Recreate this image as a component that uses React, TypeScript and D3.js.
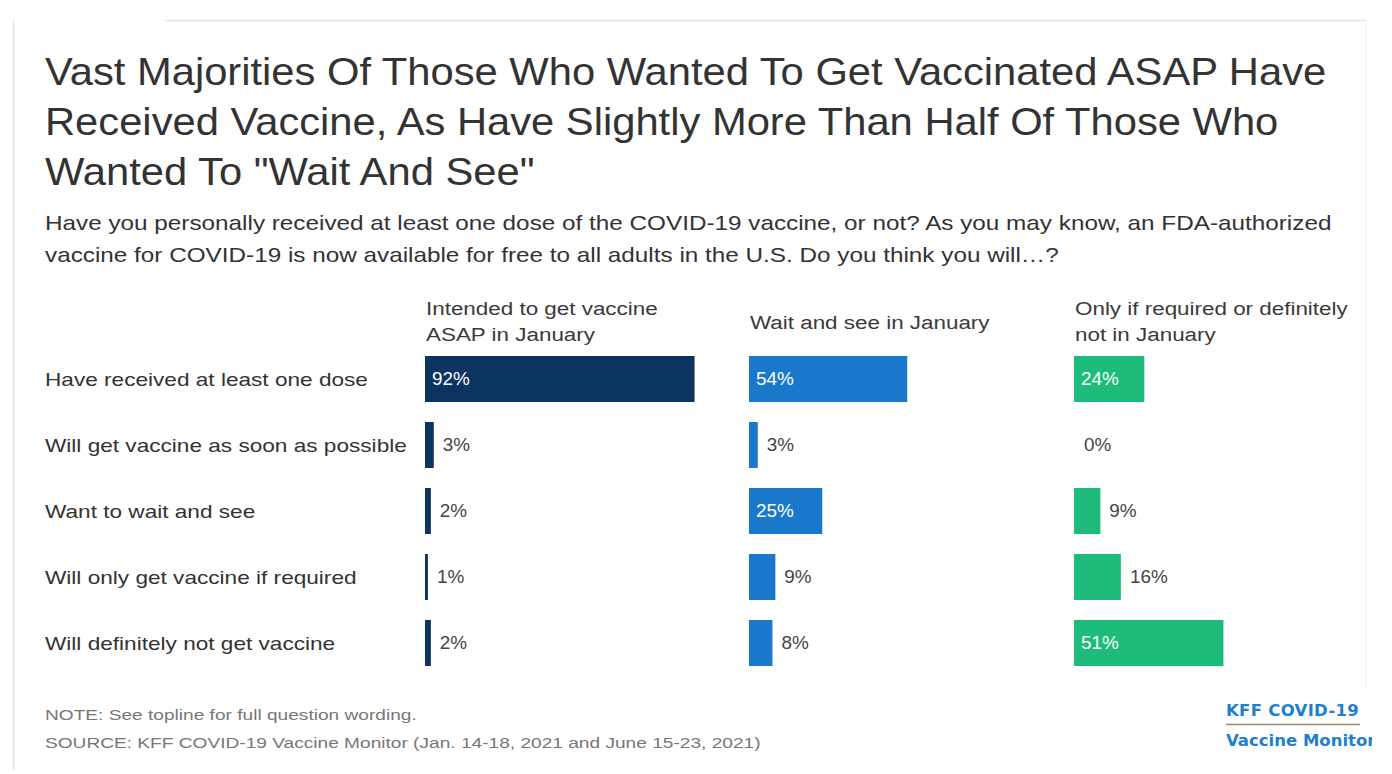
import React from "react";
import * as d3 from "d3";

const titleLines = [
  "Vast Majorities Of Those Who Wanted To Get Vaccinated ASAP Have",
  "Received Vaccine, As Have Slightly More Than Half Of Those Who",
  'Wanted To "Wait And See"',
];
const subtitleLines = [
  "Have you personally received at least one dose of the COVID-19 vaccine, or not? As you may know, an FDA-authorized",
  "vaccine for COVID-19 is now available for free to all adults in the U.S. Do you think you will…?",
];
const categories = [
  "Have received at least one dose",
  "Will get vaccine as soon as possible",
  "Want to wait and see",
  "Will only get vaccine if required",
  "Will definitely not get vaccine",
];
const groupHeaders = [
  ["Intended to get vaccine", "ASAP in January"],
  ["Wait and see in January"],
  ["Only if required or definitely", "not in January"],
];
const asapValues = [92, 3, 2, 1, 2];
const waitValues = [54, 3, 25, 9, 8];
const requiredValues = [24, 0, 9, 16, 51];
const groupColors = ["#0b3560", "#1a78cc", "#1dbc7a"];
const noteText = "NOTE: See topline for full question wording.";
const sourceText = "SOURCE: KFF COVID-19 Vaccine Monitor (Jan. 14-18, 2021 and June 15-23, 2021)";

const FONT = "'Liberation Sans', Arial, Helvetica, sans-serif";

type TProps = {
  x: number;
  y: number;
  sx: number;
  size: number;
  fill: string;
  dy?: string;
  children: React.ReactNode;
};
function T({ x, y, sx, size, fill, dy, children }: TProps) {
  return (
    <text transform={`translate(${x},${y}) scale(${sx},1)`} fontSize={size} fill={fill} dy={dy}>
      {children}
    </text>
  );
}

export default function App() {
  const W = 1392;
  const H = 774;
  const series = [asapValues, waitValues, requiredValues];
  const colX = [425, 749, 1074];
  const x = d3.scaleLinear().domain([0, 100]).range([0, 293]);
  const y = d3
    .scaleBand<string>()
    .domain(categories)
    .range([346, 676])
    .paddingInner(20 / 66)
    .paddingOuter(10 / 66);

  return (
    <svg
      width={W}
      height={H}
      style={{ position: "absolute", left: 0, top: 0, background: "#fff" }}
      fontFamily={FONT}
    >
      <defs>
        <clipPath id="logoclip">
          <rect x={1180} y={690} width={192} height={70} />
        </clipPath>
      </defs>
      <rect x={0} y={0} width={W} height={H} fill="#fff" />
      {/* frame */}
      <line x1={13.5} y1={20} x2={13.5} y2={770} stroke="#e4e4e4" strokeWidth={1.5} />
      <line x1={165} y1={20.5} x2={1366} y2={20.5} stroke="#e4e4e4" strokeWidth={1.5} />
      <line x1={1366} y1={20} x2={1366} y2={690} stroke="#f2f2f2" strokeWidth={1} />

      {titleLines.map((t, i) => (
        <T key={t} x={45} y={85 + i * 50} sx={1.098} size={38} fill="#333">
          {t}
        </T>
      ))}
      {subtitleLines.map((t, i) => (
        <T key={t} x={45} y={230 + i * 32} sx={1.185} size={20.5} fill="#333">
          {t}
        </T>
      ))}

      {groupHeaders.map((lines, gi) => {
        const top = lines.length === 1 ? 329 : 315;
        return lines.map((l, li) => (
          <T key={gi + "-" + li} x={colX[gi] + 1} y={top + li * 26} sx={1.18} size={19} fill="#3a3a3a">
            {l}
          </T>
        ));
      })}

      {categories.map((c) => (
        <T
          key={c}
          x={45}
          y={(y(c) as number) + y.bandwidth() / 2}
          dy="0.35em"
          sx={1.19}
          size={19}
          fill="#333"
        >
          {c}
        </T>
      ))}

      {series.map((vals, gi) =>
        vals.map((v, ri) => {
          const cat = categories[ri];
          const by = y(cat) as number;
          const w = x(v);
          const inside = v >= 20;
          return (
            <g key={gi + "-" + ri}>
              {v > 0 && (
                <rect x={colX[gi]} y={by} width={w} height={y.bandwidth()} fill={groupColors[gi]} />
              )}
              <T
                x={inside ? colX[gi] + 7 : colX[gi] + w + (v > 0 ? 9 : 10)}
                y={by + y.bandwidth() / 2}
                dy="0.35em"
                sx={1.05}
                size={18}
                fill={inside ? "#fff" : "#444"}
              >
                {v + "%"}
              </T>
            </g>
          );
        })
      )}

      <T x={45} y={720} sx={1.275} size={15} fill="#777">
        {noteText}
      </T>
      <T x={45} y={748} sx={1.275} size={15} fill="#777">
        {sourceText}
      </T>

      <g clipPath="url(#logoclip)">
        <text x={1226} y={716} fontSize={16.5} fontWeight="bold" fill="#1f7fcf" fontFamily="'DejaVu Sans', sans-serif" letterSpacing={0.3}>
          KFF COVID-19
        </text>
        <line x1={1226} y1={724.5} x2={1360} y2={724.5} stroke="#9a8a66" strokeWidth={1.5} />
        <text x={1226} y={746} fontSize={16.5} fontWeight="bold" fill="#1f7fcf" fontFamily="'DejaVu Sans', sans-serif">
          Vaccine Monitor
        </text>
      </g>
    </svg>
  );
}
